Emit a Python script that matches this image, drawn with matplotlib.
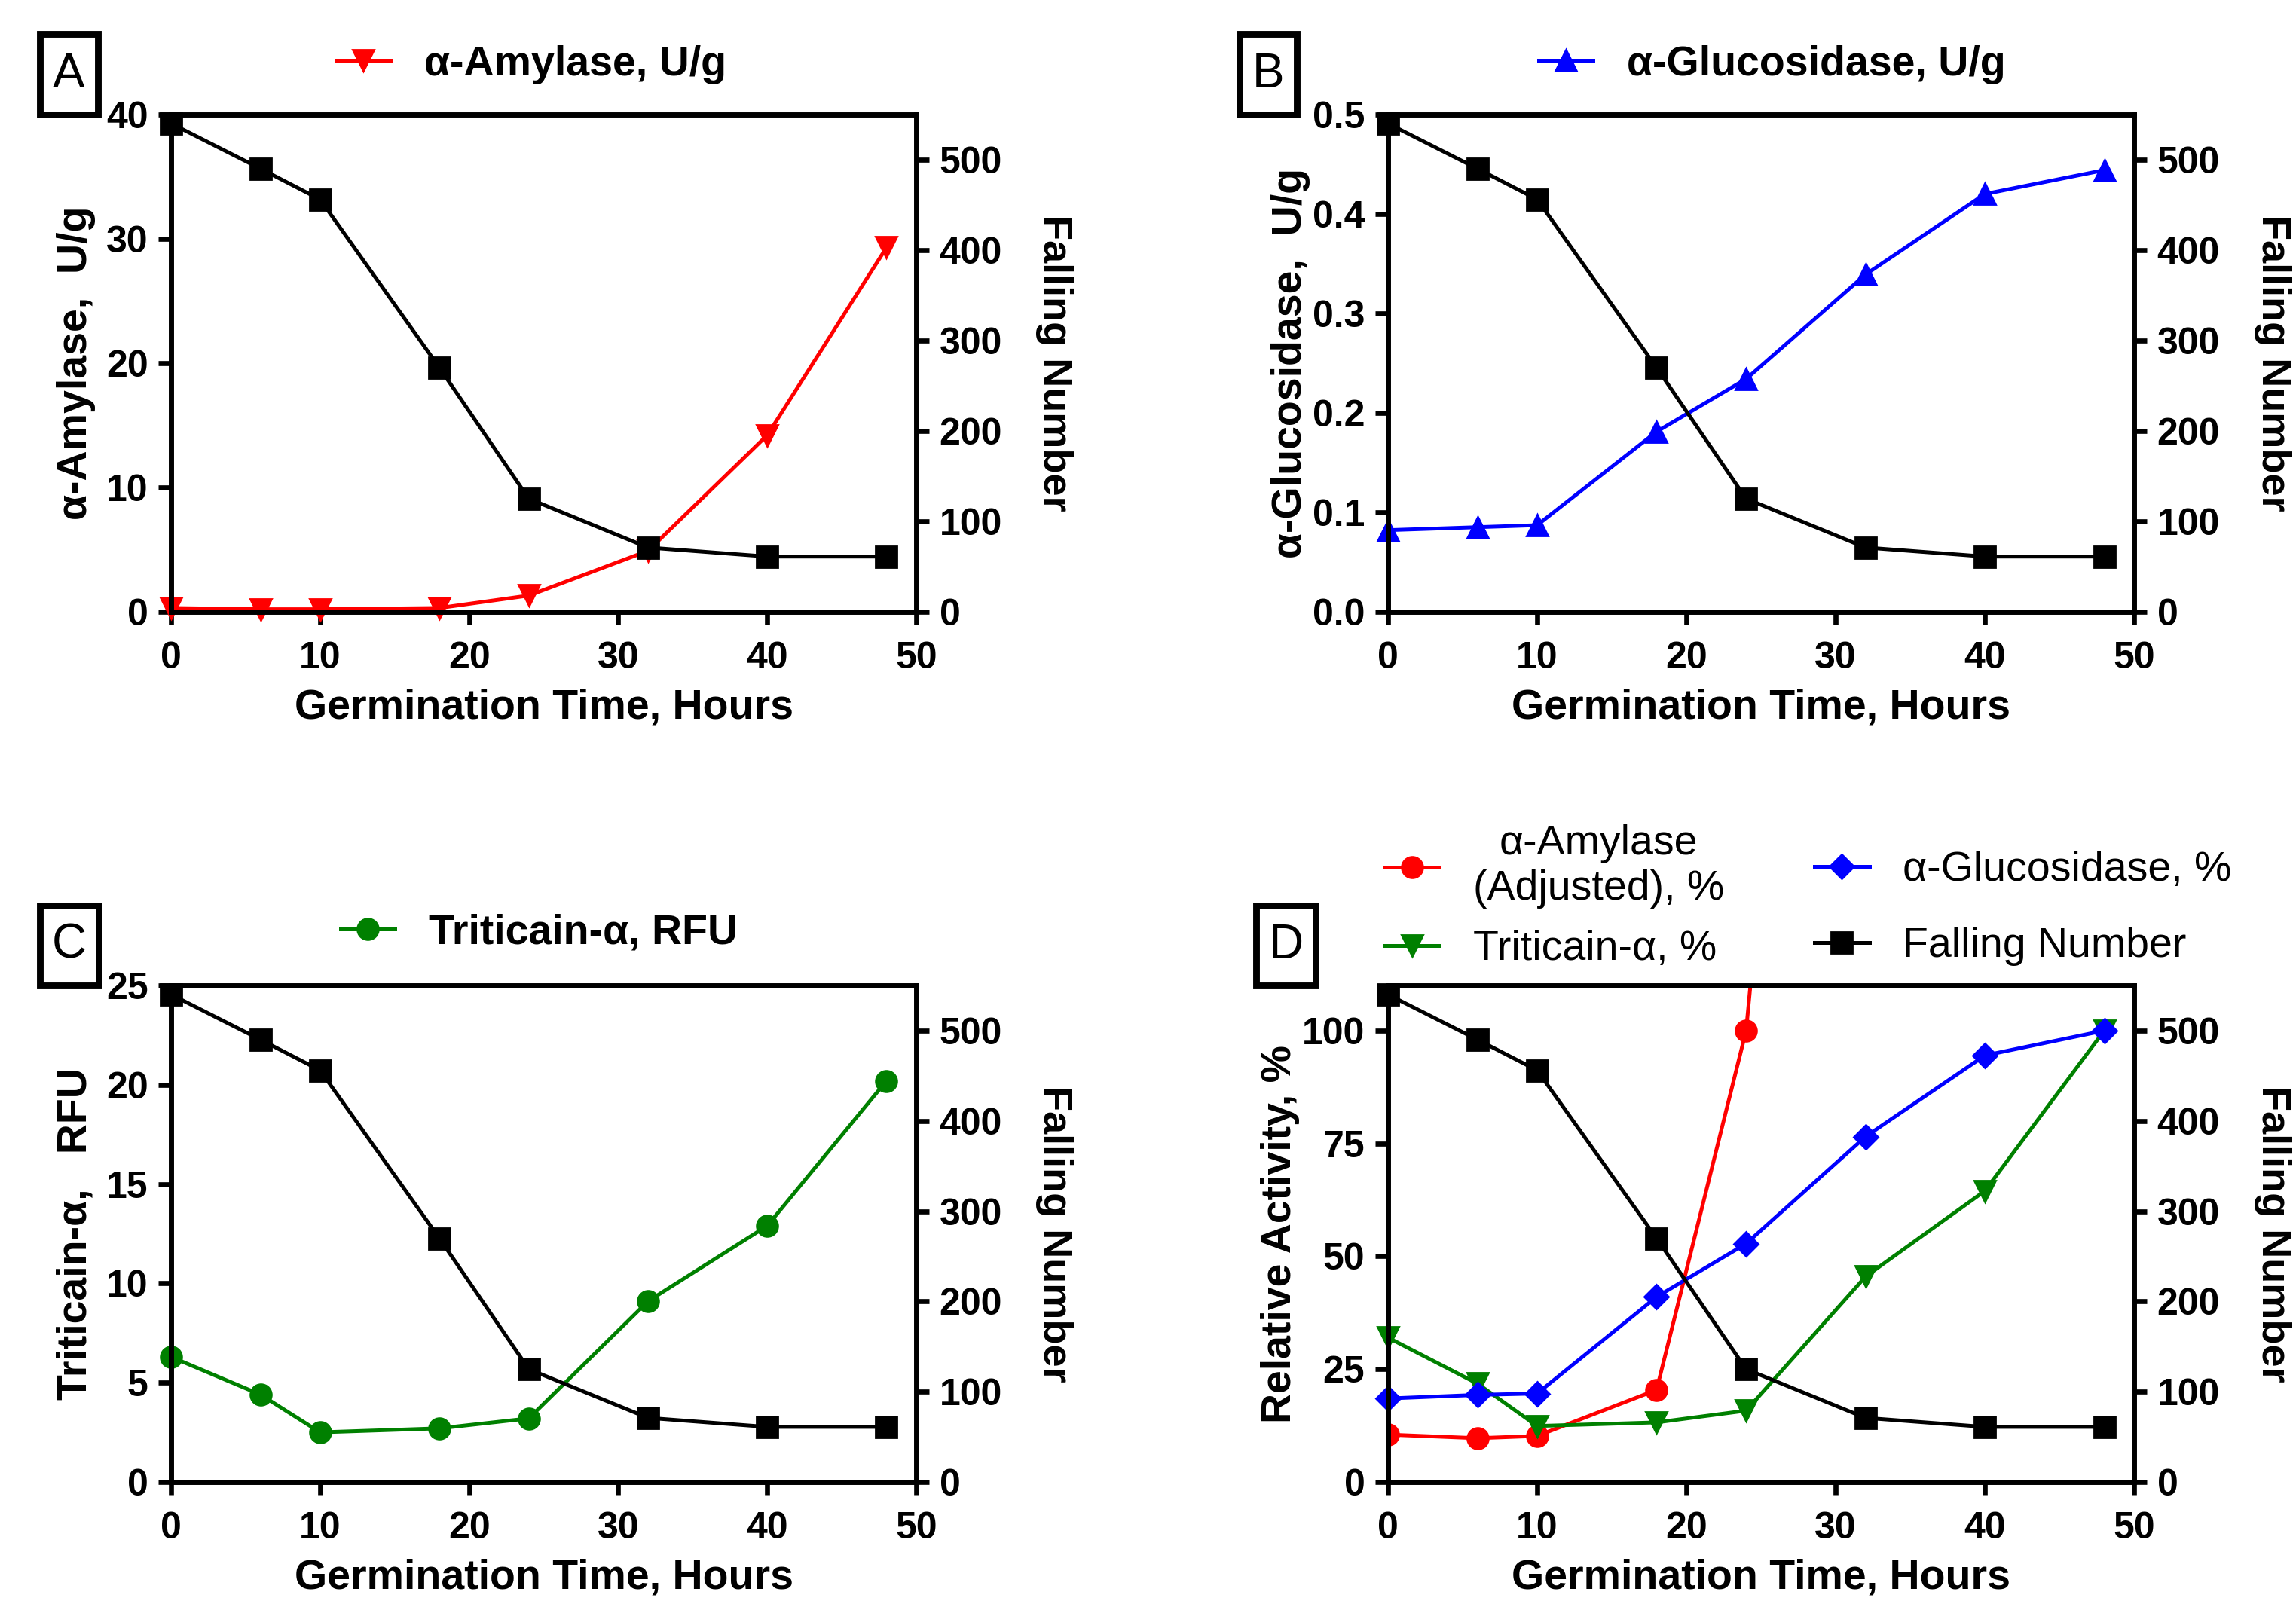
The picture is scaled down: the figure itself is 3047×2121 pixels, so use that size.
import matplotlib
matplotlib.use('Agg')
import matplotlib.pyplot as plt
from matplotlib.patches import Rectangle

# ----- Data -----
hours = [0, 6, 10, 18, 24, 32, 40, 48]
fallingNumber = [540, 490, 456, 270, 125, 71, 61, 61]

amylase = [0.3, 0.2, 0.2, 0.3, 1.3, 4.9, 14.2, 29.3]
glucosidase = [0.082, 0.085, 0.087, 0.181, 0.234, 0.339, 0.420, 0.444]
triticain = [6.3, 4.4, 2.5, 2.7, 3.2, 9.1, 12.9, 20.2]

amylasePct = [10.5, 9.7, 10.2, 20.4, 100, 377, 1092, 2254]
glucosidasePct = [18.5, 19.3, 19.6, 41.0, 52.8, 76.5, 94.5, 100]
triticainPct = [32.0, 21.8, 12.4, 13.2, 15.8, 45.5, 64.5, 100]

NARROW = ['Liberation Sans Narrow', 'Liberation Sans', 'DejaVu Sans']
WIDE = ['Liberation Sans', 'DejaVu Sans']
GREEN = '#008000'
LW = 1.8
MS = 10

plt.rcParams['axes.linewidth'] = 2.4
plt.rcParams['xtick.major.width'] = 2.4
plt.rcParams['ytick.major.width'] = 2.4
plt.rcParams['xtick.major.size'] = 6
plt.rcParams['ytick.major.size'] = 6
plt.rcParams['xtick.major.pad'] = 8
plt.rcParams['ytick.major.pad'] = 5

W, H = 3047, 2121
fig = plt.figure(figsize=(W / 200, H / 200), dpi=200)

positions = {
    'A': [0.0745, 0.6172, 0.3246, 0.3112],
    'B': [0.6045, 0.6172, 0.3250, 0.3112],
    'C': [0.0745, 0.0726, 0.3246, 0.3107],
    'D': [0.6045, 0.0726, 0.3250, 0.3107],
}


def setup(ax, ylim, yticks, ylabel, yfmt=None, ylabpad=5):
    ax2 = ax.twinx()
    ax.set_xlim(0, 50)
    ax.set_xticks([0, 10, 20, 30, 40, 50])
    ax.set_ylim(*ylim)
    ax.set_yticks(yticks)
    if yfmt:
        ax.set_yticklabels([yfmt.format(v) for v in yticks])
    ax2.set_ylim(0, 550)
    ax2.set_yticks([0, 100, 200, 300, 400, 500])
    for a in (ax, ax2):
        for lab in a.get_xticklabels() + a.get_yticklabels():
            lab.set_fontfamily(NARROW)
            lab.set_fontweight('bold')
            lab.set_fontsize(18)
    ax.set_xlabel('Germination Time, Hours', family=NARROW, weight='bold', fontsize=20, labelpad=6)
    ax.set_ylabel(ylabel, family=WIDE, weight='bold', fontsize=20, labelpad=ylabpad)
    ax2.set_ylabel('Falling Number', family=WIDE, weight='bold', fontsize=19.5, rotation=270, labelpad=34)
    return ax2


def fn_line(ax2):
    l, = ax2.plot(hours, fallingNumber, color='black', marker='s', markersize=MS,
                  linewidth=LW, clip_on=False, zorder=3)
    return l


def panel_tag(letter, x0, x1, y0, y1):
    # box coordinates in pixels of the full picture (y from top)
    fig.add_artist(Rectangle((x0 / W, 1 - y1 / H), (x1 - x0) / W, (y1 - y0) / H,
                             transform=fig.transFigure, fill=False, ec='black', lw=3.2))
    fig.text((x0 + x1) / 2 / W, 1 - (y0 + y1) / 2 / H, letter, fontsize=23, family=WIDE,
             ha='center', va='center')


def top_legend(ax, handles, labels, xc, yc=1.10, **kw):
    return ax.legend(handles, labels, loc='center', bbox_to_anchor=(xc, yc),
                     frameon=False, handlelength=1.3, **kw)


# ----- A -----
axA = fig.add_axes(positions['A'])
axA2 = setup(axA, (0, 40), [0, 10, 20, 30, 40], 'α-Amylase,  U/g')
lA, = axA.plot(hours, amylase, color='red', marker='v', markersize=MS, linewidth=LW, clip_on=False)
fn_line(axA2)
top_legend(axA, [lA], ['α-Amylase, U/g'], 0.483, prop=dict(family=NARROW, weight='bold', size=20))
panel_tag('A', 53, 130, 45, 152)

# ----- B -----
axB = fig.add_axes(positions['B'])
axB2 = setup(axB, (0, 0.5), [0, 0.1, 0.2, 0.3, 0.4, 0.5], 'α-Glucosidase,  U/g',
             yfmt='{:.1f}', ylabpad=1)
lB, = axB.plot(hours, glucosidase, color='blue', marker='^', markersize=MS, linewidth=LW, clip_on=False)
fn_line(axB2)
top_legend(axB, [lB], ['α-Glucosidase, U/g'], 0.515, prop=dict(family=NARROW, weight='bold', size=20))
panel_tag('B', 1645, 1721, 45, 152)

# ----- C -----
axC = fig.add_axes(positions['C'])
axC2 = setup(axC, (0, 25), [0, 5, 10, 15, 20, 25], 'Triticain-α,   RFU')
lC, = axC.plot(hours, triticain, color=GREEN, marker='o', markersize=MS, linewidth=LW, clip_on=False)
fn_line(axC2)
top_legend(axC, [lC], ['Triticain-α, RFU'], 0.494, yc=1.105,
           prop=dict(family=NARROW, weight='bold', size=20))
panel_tag('C', 53, 131, 1202, 1308)

# ----- D -----
axD = fig.add_axes(positions['D'])
axD2 = setup(axD, (0, 110), [0, 25, 50, 75, 100], 'Relative Activity, %', ylabpad=1)
lD1, = axD.plot(hours, amylasePct, color='red', marker='o', markersize=MS, linewidth=LW)
lD2, = axD.plot(hours, triticainPct, color=GREEN, marker='v', markersize=MS, linewidth=LW, clip_on=False)
lD3, = axD.plot(hours, glucosidasePct, color='blue', marker='D', markersize=8, linewidth=LW, clip_on=False)
lD4 = fn_line(axD2)

# two legend columns, placed separately so rows line up as in the figure
legD1 = axD2.legend([lD1, lD2], ['α-Amylase\n(Adjusted), %', 'Triticain-α, %'],
                    loc='lower left', bbox_to_anchor=(-0.004, 1.033), frameon=False,
                    borderaxespad=0, borderpad=0, handlelength=1.3, labelspacing=0.5,
                    prop=dict(family=NARROW, size=20))
legD1.get_texts()[0].set_multialignment('center')
axD2.add_artist(legD1)
axD2.legend([lD3, lD4], ['α-Glucosidase, %', 'Falling Number'],
            loc='lower left', bbox_to_anchor=(0.572, 1.039), frameon=False,
            borderaxespad=0, borderpad=0, handlelength=1.3, labelspacing=0.88,
            prop=dict(family=NARROW, size=20))
panel_tag('D', 1667, 1746, 1202, 1308)

fig.savefig('out.png', dpi=200)
